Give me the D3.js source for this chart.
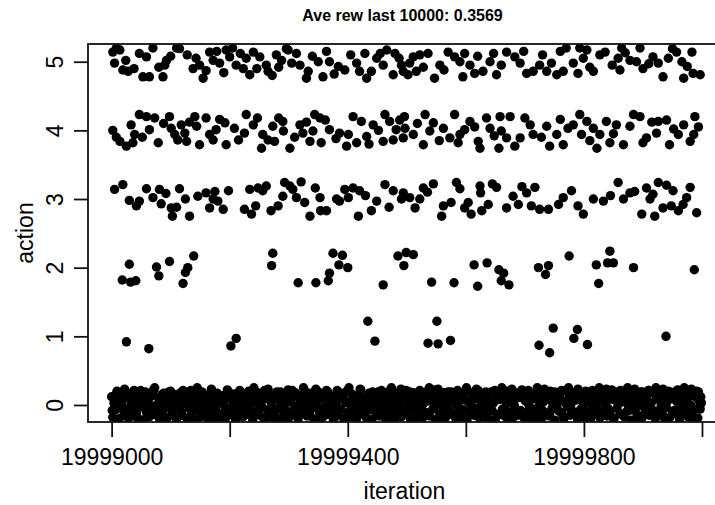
<!DOCTYPE html>
<html>
<head>
  <meta charset="utf-8">
  <script src="https://d3js.org/d3.v7.min.js"></script>
  <style>
    body { margin: 0; background: #fff; }
    text { font-family: "Liberation Sans", Arial, sans-serif; fill: #000; }
  </style>
</head>
<body>
  <script type="text/javascript">
    "use strict";
    // iterations are stored as offsets from 19999000, value = action + jitter
    var base = 19999000;
    var title = "Ave rew last 10000: 0.3569";
    var xTicks = [19999000, 19999200, 19999400, 19999600, 19999800, 20000000];
    var xLabels = [19999000, 19999400, 19999800];
    var yTicks = [0, 1, 2, 3, 4, 5];

    var act5 = [[2,5.14],[14,5.17],[5,4.98],[19,4.88],[28,4.86],[47,5.12],[59,5.07],[53,4.78],[64,4.78],[93,5.02],
      [90,4.95],[87,4.78],[115,5.19],[138,4.9],[149,4.95],[155,4.76],[166,5.14],[172,5.02],[183,4.98],[194,5.17],
      [200,5.07],[211,4.95],[223,4.9],[234,4.81],[240,5.14],[251,5.07],[262,4.95],[265,4.86],[279,5.1],[288,5.02],
      [299,5.17],[305,4.98],[319,4.95],[330,4.76],[333,4.86],[350,5.0],[358,4.78],[369,5.0],[384,4.93],[395,4.88],
      [415,4.98],[420,4.86],[432,4.76],[429,5.12],[449,5.05],[460,4.95],[466,5.17],[480,5.12],[477,4.81],[494,4.86],
      [8,5.2],[70,5.2],[110,5.2],[205,5.2],[296,5.19],[491,4.95],[505,4.98],[511,5.07],[522,5.1],[536,5.12],
      [516,4.86],[502,4.81],[547,4.76],[556,4.95],[570,5.14],[581,5.07],[590,5.0],[598,5.12],[607,4.95],[595,4.78],
      [615,4.83],[629,4.86],[641,5.0],[647,5.12],[652,4.81],[669,5.14],[683,5.07],[692,4.98],[703,4.83],[714,4.86],
      [725,4.95],[737,4.86],[745,4.98],[754,4.81],[765,4.86],[782,4.98],[790,4.83],[799,5.05],[816,4.86],[827,5.1],
      [836,5.14],[805,5.17],[858,5.05],[861,4.88],[878,5.02],[889,5.0],[900,4.9],[917,5.07],[926,4.98],[934,4.78],
      [943,5.05],[957,5.14],[966,5.0],[969,4.76],[983,5.14],[985,4.83],[997,4.81],[770,5.2],[793,5.2],[864,5.2],
      [895,5.2],[950,5.19],
      [24,5.02],[38,4.9],[80,4.92],[100,5.08],[128,5.1],[143,5.05],[160,4.87],[178,5.15],[190,4.84],[218,5.12],
      [228,5.05],[246,4.9],[272,4.8],[283,4.92],[313,5.12],[340,5.08],[364,5.15],[377,4.82],[405,5.1],[440,4.86],
      [455,5.12],[487,5.05],[528,4.92],[563,4.88],[620,5.08],[660,4.95],[698,5.15],[730,5.1],[760,5.15],[810,4.92],
      [848,4.95],[870,5.13],[910,4.97],[975,4.93]];

    var act4 = [[2,4.0],[14,3.84],[25,3.77],[36,3.82],[39,3.94],[33,4.08],[47,4.23],[59,4.2],[73,4.18],[64,4.01],
      [79,3.82],[98,4.2],[101,4.03],[107,3.94],[112,3.86],[124,3.96],[127,3.84],[118,4.08],[141,4.2],[144,4.06],
      [160,4.18],[149,3.79],[166,3.94],[177,4.01],[192,4.11],[194,3.79],[208,4.03],[228,4.23],[225,3.96],[240,4.08],
      [256,3.94],[254,3.74],[273,4.06],[290,4.13],[291,3.99],[276,3.84],[302,3.74],[319,4.08],[324,3.96],[344,4.23],
      [353,4.18],[341,3.99],[336,3.84],[355,3.82],[369,4.01],[386,3.96],[401,3.94],[398,3.77],[415,3.82],[409,4.2],
      [423,4.13],[432,3.91],[443,4.08],[463,4.23],[471,4.13],[482,4.01],[460,3.84],[477,3.86],[494,3.89],
      [496,4.2],[497,4.03],[511,3.94],[531,4.23],[545,4.11],[539,3.99],[528,3.79],[562,4.03],[573,3.89],[581,4.23],
      [590,3.94],[598,4.01],[607,4.13],[587,3.82],[621,3.84],[635,4.18],[641,4.03],[658,4.2],[675,4.2],[660,3.99],
      [669,3.89],[624,3.74],[656,3.74],[683,3.77],[709,4.08],[714,3.94],[692,3.89],[737,4.06],[754,3.94],[742,3.77],
      [773,4.03],[782,4.08],[765,3.79],[793,4.23],[805,4.13],[796,3.94],[816,4.03],[838,4.13],[855,4.08],[827,3.94],
      [822,3.74],[844,3.82],[867,3.79],[884,4.23],[895,4.2],[878,4.06],[906,3.89],[900,3.82],[926,4.13],[940,4.15],
      [923,3.96],[945,3.79],[960,3.94],[969,4.08],[986,3.94],[988,4.2],[980,3.84],
      [8,3.9],[52,3.9],[88,4.1],[132,4.12],[172,3.86],[183,4.16],[215,3.86],[247,4.18],[265,3.86],[283,4.18],
      [310,3.9],[330,4.12],[362,4.15],[380,3.88],[436,3.8],[452,4.0],[488,4.15],[518,4.1],[555,3.85],[615,4.05],
      [648,3.92],[700,4.18],[728,3.9],[760,4.16],[810,3.85],[850,3.95],[915,4.12],[952,4.02],[994,4.05]];

    var act3 = [[5,3.14],[19,3.21],[59,3.15],[81,3.14],[115,3.15],[47,2.97],[42,2.9],[70,3.02],[84,2.93],[101,2.87],
      [110,2.88],[103,2.75],[132,2.75],[146,3.04],[160,3.09],[175,3.11],[172,3.0],[166,2.87],[189,2.85],[180,2.97],
      [225,2.85],[237,2.78],[234,3.14],[248,3.16],[262,3.19],[256,3.12],[293,3.24],[302,3.19],[321,3.25],[307,3.14],
      [290,3.04],[282,2.9],[327,2.95],[353,3.02],[336,2.75],[354,2.83],[364,2.83],[381,3.0],[395,3.14],[409,3.16],
      [420,3.12],[401,3.02],[386,2.97],[449,2.97],[440,2.83],[418,2.75],[463,3.21],[477,3.12],[491,3.0],
      [494,3.09],[505,3.02],[528,3.16],[545,3.22],[522,3.0],[514,2.87],[562,2.9],[559,2.75],[584,3.24],[590,3.15],
      [604,2.95],[598,2.87],[609,2.78],[624,3.19],[625,3.09],[638,2.92],[627,2.83],[652,3.17],[669,2.87],[680,3.04],
      [689,2.92],[703,3.09],[717,3.17],[711,2.9],[725,2.85],[757,2.92],[765,3.02],[779,3.12],[799,2.78],[816,3.0],
      [833,2.97],[858,3.24],[867,3.0],[878,3.09],[886,3.11],[906,3.16],[926,3.24],[917,3.07],[912,3.0],[898,2.78],
      [920,2.75],[934,2.87],[951,3.12],[948,2.9],[960,2.83],[974,3.02],[980,3.17],[991,2.8],
      [30,2.98],[92,3.08],[125,3.0],[198,3.12],[244,2.9],[270,2.83],[313,3.02],[345,3.16],[430,3.05],[470,2.88],
      [535,3.1],[575,2.95],[645,3.22],[695,3.18],[740,2.85],[790,2.9],[845,3.05],[940,3.2],[968,2.92]];

    var act2 = [[30,2.05],[18,1.82],[32,1.79],[41,1.81],[76,2.01],[80,1.88],[98,2.09],[139,2.17],[129,2.0],[125,1.93],
      [121,1.77],[273,2.21],[271,2.03],[316,1.78],[346,1.78],[367,1.81],[369,1.92],[375,2.21],[391,2.18],[385,2.04],
      [400,2.0],[460,1.75],[485,2.17],[499,2.22],[495,2.03],[511,2.19],[542,1.79],[580,1.78],[614,2.04],[636,2.07],
      [656,1.97],[664,1.92],[660,1.81],[673,1.75],[620,1.73],[723,2.0],[740,2.03],[735,1.9],[775,2.17],[821,2.04],
      [844,2.24],[840,2.07],[850,2.07],[825,1.77],[884,2.0],[987,1.97]];

    var act1 = [[25,0.92],[63,0.82],[202,0.86],[211,0.97],[434,1.22],[446,0.93],[551,1.22],[536,0.9],[553,0.89],
      [574,0.94],[748,1.12],[789,1.1],[783,0.97],[724,0.87],[742,0.76],[806,0.88],[939,1.0]];

    var act0 = [[0,0.12],[2,-0.18],[4,0.03],[7,-0.07],[9,0.2],[11,-0.21],[14,0.08],[16,-0.02],[19,0.15],[21,-0.13],
      [23,-0.05],[26,0.18],[28,-0.19],[31,0.1],[33,0.01],[35,-0.16],[38,0.21],[40,-0.09],[43,0.06],[45,-0.2],
      [47,0.14],[50,-0.03],[52,-0.22],[55,0.09],[57,0.19],[59,-0.11],[62,0.04],[64,-0.17],[67,0.16],[69,-0.06],
      [71,0.22],[74,-0.14],[76,0.0],[79,0.11],[81,-0.2],[83,0.07],[86,-0.1],[88,0.17],[91,-0.04],[93,0.13],
      [95,-0.18],[98,0.05],[100,0.2],[103,-0.12],[105,-0.01],[107,0.15],[110,-0.21],[112,0.08],[115,-0.07],[117,0.18],
      [119,-0.15],[122,0.02],[124,0.12],[127,-0.19],[129,0.1],[131,-0.05],[134,0.21],[136,-0.13],[139,0.04],[141,-0.22],
      [143,0.16],[146,-0.08],[148,0.09],[151,-0.17],[153,0.19],[155,0.0],[158,-0.11],[160,0.14],[163,-0.2],[165,0.06],
      [167,-0.03],[170,0.2],[172,-0.16],[175,0.11],[177,-0.08],[179,0.17],[182,-0.21],[184,0.03],[187,0.13],[189,-0.12],
      [191,0.07],[194,-0.18],[196,0.22],[199,-0.05],[201,0.1],[203,-0.14],[206,0.01],[208,0.16],[211,-0.2],[213,0.08],
      [215,-0.09],[218,0.19],[220,-0.02],[223,-0.17],[225,0.12],[227,0.04],[230,-0.13],[232,0.2],[235,-0.07],[237,0.14],
      [239,-0.22],[242,0.06],[244,-0.1],[247,0.18],[249,0.0],[251,-0.15],[254,0.11],[256,-0.04],[259,0.21],[261,-0.19],
      [263,0.09],[266,-0.12],[268,0.15],[271,0.02],[273,-0.18],[275,0.13],[278,-0.06],[280,0.19],[283,-0.21],[285,0.07],
      [287,-0.01],[290,0.16],[292,-0.14],[295,0.1],[297,-0.09],[299,0.22],[302,-0.17],[304,0.04],[307,0.12],[309,-0.11],
      [311,0.18],[314,-0.03],[316,-0.2],[319,0.08],[321,0.14],[323,-0.08],[326,0.01],[328,0.2],[331,-0.16],[333,0.06],
      [335,-0.12],[338,0.17],[340,-0.05],[343,0.11],[345,-0.21],[347,0.03],[350,0.19],[352,-0.1],[355,0.09],[357,-0.18],
      [359,0.15],[362,-0.02],[364,0.21],[367,-0.14],[369,0.05],[371,-0.07],[374,0.13],[376,-0.22],[379,0.1],[381,0.0],
      [383,-0.15],[386,0.18],[388,-0.06],[391,0.12],[393,-0.19],[395,0.07],[398,0.2],[400,-0.11],[403,0.03],[405,-0.17],
      [407,0.16],[410,-0.04],[412,0.09],[415,-0.2],[417,0.14],[419,-0.09],[422,0.22],[424,0.01],[427,-0.13],[429,0.11],
      [431,-0.18],[434,0.06],[436,0.17],[439,-0.07],[441,-0.21],[443,0.13],[446,0.02],[448,-0.12],[451,0.19],[453,-0.16],
      [455,0.08],[458,-0.03],[460,0.15],[463,-0.19],[465,0.1],[467,-0.08],[470,0.2],[472,0.04],[475,-0.14],[477,0.12],
      [479,-0.22],[482,0.07],[484,0.17],[487,-0.1],[489,0.0],[491,-0.17],[494,0.14],[496,-0.05],[499,0.21],[501,-0.12],
      [503,0.05],[506,-0.2],[508,0.11],[511,0.18],[513,-0.08],[515,0.02],[518,-0.15],[520,0.16],[523,-0.02],[525,0.09],
      [527,-0.19],[530,0.13],[532,-0.11],[535,0.2],[537,0.06],[539,-0.16],[542,0.1],[544,-0.06],[547,0.22],[549,-0.21],
      [551,0.03],[554,0.15],[556,-0.13],[559,0.08],[561,-0.04],[563,0.18],[566,-0.18],[568,0.01],[571,0.12],[573,-0.09],
      [575,0.19],[578,-0.14],[580,0.05],[583,-0.2],[585,0.14],[587,-0.01],[590,0.1],[592,-0.17],[595,0.17],[597,-0.07],
      [599,0.07],[602,-0.22],[604,0.2],[607,-0.1],[609,0.03],[611,0.13],[614,-0.15],[616,0.09],[619,-0.05],[621,0.21],
      [623,-0.19],[626,0.0],[628,0.16],[631,-0.12],[633,0.06],[635,-0.18],[638,0.12],[640,-0.03],[643,0.19],[645,-0.09],
      [647,0.04],[650,-0.21],[652,0.15],[655,0.08],[657,-0.13],[659,0.18],[662,-0.06],[664,0.1],[667,-0.17],[669,0.02],
      [671,0.2],[674,-0.11],[676,0.14],[679,-0.2],[681,0.05],[683,-0.04],[686,0.17],[688,-0.15],[691,0.11],[693,-0.08],
      [695,0.22],[698,-0.18],[700,0.07],[703,0.13],[705,-0.1],[707,0.0],[710,-0.21],[712,0.16],[715,-0.06],[717,0.09],
      [719,-0.14],[722,0.19],[724,-0.02],[727,0.12],[729,-0.19],[731,0.04],[734,0.15],[736,-0.12],[739,0.08],[741,-0.16],
      [743,0.2],[746,-0.05],[748,0.1],[751,-0.22],[753,0.14],[755,0.01],[758,-0.09],[760,0.17],[763,-0.13],[765,0.06],
      [767,-0.18],[770,0.21],[772,-0.03],[775,0.11],[777,-0.15],[779,0.03],[782,0.18],[784,-0.11],[787,0.07],[789,-0.2],
      [791,0.13],[794,-0.07],[796,0.16],[799,-0.17],[801,0.05],[803,0.2],[806,-0.1],[808,0.09],[811,-0.21],[813,0.0],
      [815,0.14],[818,-0.14],[820,0.11],[823,-0.04],[825,0.19],[827,-0.19],[830,0.06],[832,0.15],[835,-0.08],[837,0.02],
      [839,-0.16],[842,0.12],[844,-0.12],[847,0.22],[849,0.08],[851,-0.2],[854,0.17],[856,-0.05],[859,0.1],[861,-0.13],
      [863,0.04],[866,0.18],[868,-0.17],[871,0.13],[873,-0.09],[875,0.0],[878,0.2],[880,-0.22],[883,0.07],[885,-0.06],
      [887,0.16],[890,-0.14],[892,0.11],[895,-0.01],[897,0.19],[899,-0.18],[902,0.05],[904,-0.1],[907,0.14],[909,0.21],
      [911,-0.15],[914,0.03],[916,-0.07],[919,0.17],[921,-0.2],[923,0.09],[926,0.13],[928,-0.12],[931,0.01],[933,0.18],
      [935,-0.16],[938,0.07],[940,-0.04],[943,0.2],[945,-0.19],[947,0.11],[950,-0.09],[952,0.15],[955,-0.13],[957,0.05],
      [959,0.22],[962,-0.21],[964,0.1],[967,-0.02],[969,0.16],[971,-0.11],[974,0.08],[976,-0.17],[979,0.19],[981,0.0],
      [983,-0.14],[986,0.13],[988,-0.06],[991,0.2],[993,-0.19],[995,0.06],[998,0.12],
      [1,-0.08],[6,0.14],[10,0.0],[13,-0.2],[18,0.06],[22,0.23],[25,-0.1],[30,0.16],[34,-0.04],[37,0.09],
      [42,-0.12],[46,0.02],[49,0.21],[54,-0.22],[58,0.07],[61,-0.05],[66,0.12],[70,-0.13],[73,0.25],[78,0.0],
      [82,-0.06],[85,0.15],[90,-0.2],[94,0.05],[97,0.19],[102,-0.08],[106,0.1],[109,-0.02],[114,0.13],[118,-0.11],
      [121,0.21],[126,0.03],[130,-0.22],[133,0.08],[138,-0.06],[142,0.11],[145,0.25],[150,-0.01],[154,-0.13],[157,0.07],
      [162,0.13],[166,-0.07],[169,0.23],[174,-0.2],[178,0.04],[181,0.1],[186,-0.15],[190,0.0],[193,0.15],[198,0.19],
      [202,-0.08],[205,0.06],[210,-0.22],[214,0.11],[217,0.21],[222,-0.03],[226,-0.14],[229,0.09],[234,0.0],[238,-0.1],
      [241,0.25],[246,0.13],[250,-0.07],[253,0.04],[258,-0.2],[262,0.1],[265,0.23],[270,-0.05],[274,0.07],[277,-0.15],
      [282,0.12],[286,0.19],[289,-0.06],[294,0.02],[298,-0.22],[301,0.09],[306,0.21],[310,-0.02],[313,0.14],[318,-0.14],
      [322,0.05],[325,0.25],[330,-0.08],[334,0.12],[337,-0.01],[342,-0.2],[346,0.23],[349,0.08],[354,-0.05],[358,0.13],
      [361,-0.15],[366,0.19],[370,0.0],[373,-0.1],[378,0.07],[382,0.21],[385,-0.07],[390,0.1],[394,-0.22],[397,0.03],
      [402,0.25],[406,-0.03],[409,0.12],[414,-0.14],[418,0.06],[421,0.23],[426,-0.08],[430,0.02],[433,-0.2],[438,0.11],
      [442,0.19],[445,-0.04],[450,0.07],[454,-0.11],[457,0.21],[462,0.0],[466,-0.22],[469,0.12],[474,0.25],[478,-0.06],
      [481,0.04],[486,-0.12],[490,0.23],[493,0.09],[498,-0.08],[502,0.14],[505,0.19],[510,-0.02],[514,-0.2],[517,0.07],
      [522,0.21],[526,-0.07],[529,0.03],[534,-0.14],[538,0.25],[541,0.1],[546,-0.04],[550,0.12],[553,0.23],[558,-0.22],
      [562,0.05],[565,-0.06],[570,0.19],[574,0.09],[577,-0.12],[582,0.01],[586,0.21],[589,-0.08],[594,0.11],[598,-0.2],
      [601,0.25],[606,0.04],[610,-0.06],[613,0.1],[618,0.23],[622,-0.13],[625,0.07],[630,-0.03],[634,0.19],[637,0.13],
      [642,-0.22],[646,0.02],[649,0.21],[654,-0.15],[658,0.08],[661,0.25],[666,-0.05],[670,0.11],[673,-0.2],[678,0.23],
      [682,0.0],[685,-0.09],[690,0.14],[694,0.19],[697,-0.13],[702,0.05],[706,0.21],[709,-0.04],[714,0.1],[718,-0.22],
      [721,0.25],[726,0.02],[730,-0.08],[733,0.23],[738,0.12],[742,-0.14],[745,0.06],[750,0.19],[754,-0.06],[757,0.1],
      [762,0.21],[766,-0.2],[769,0.03],[774,0.25],[778,-0.05],[781,0.13],[786,-0.15],[790,0.23],[793,0.08],[798,-0.03],
      [802,0.19],[805,-0.22],[810,0.11],[814,0.21],[817,-0.07],[822,0.04],[826,0.25],[829,-0.14],[834,0.09],[838,0.23],
      [841,-0.05],[846,0.12],[850,-0.2],[853,0.19],[858,0.01],[862,0.21],[865,-0.13],[870,0.07],[874,0.25],[877,-0.08],
      [882,0.13],[886,0.23],[889,-0.03],[894,-0.22],[898,0.19],[901,0.09],[906,-0.07],[910,0.21],[913,0.03],[918,-0.14],
      [922,0.25],[925,0.1],[930,-0.05],[934,0.23],[937,-0.2],[942,0.06],[946,0.19],[949,0.14],[954,-0.08],[958,0.21],
      [961,0.02],[966,-0.13],[970,0.25],[973,0.08],[978,-0.04],[982,0.23],[985,-0.22],[990,0.12],[994,0.19],[997,-0.06],[999,0.03]];

    var W = 715, H = 505;
    var pLeft = 88, pRight = 725, pTop = 44, pBottom = 422;

    var svg = d3.select("body").append("svg")
      .attr("width", W).attr("height", H);

    var x = d3.scaleLinear().domain([19998960, 20000039]).range([pLeft, pRight]);
    var y = d3.scaleLinear().domain([-0.248, 5.258]).range([pBottom, pTop]);

    svg.append("clipPath").attr("id", "plotclip")
      .append("rect")
        .attr("x", pLeft).attr("y", pTop)
        .attr("width", pRight - pLeft).attr("height", pBottom - pTop);

    var points = [].concat(act0, act1, act2, act3, act4, act5);

    svg.append("g")
        .attr("clip-path", "url(#plotclip)")
      .selectAll("circle")
      .data(points)
      .enter().append("circle")
        .attr("cx", function (d) { return x(base + d[0]); })
        .attr("cy", function (d) { return y(d[1]); })
        .attr("r", 4.7)
        .style("fill", "#000");

    // box
    svg.append("rect")
      .attr("x", pLeft).attr("y", pTop)
      .attr("width", pRight - pLeft).attr("height", pBottom - pTop)
      .style("fill", "none").style("stroke", "#111").style("stroke-width", 1.8);

    // x axis
    var xAxis = d3.axisBottom(x)
      .tickValues(xTicks)
      .tickSize(15)
      .tickFormat(function (d) { return xLabels.indexOf(d) >= 0 ? d3.format("d")(d) : ""; });
    var gx = svg.append("g")
      .attr("transform", "translate(0," + pBottom + ")")
      .call(xAxis);
    gx.select(".domain").remove();
    gx.selectAll(".tick line").style("stroke", "#111").style("stroke-width", 1.8);
    gx.selectAll(".tick text")
      .attr("y", 43).attr("dy", null)
      .style("font-family", "Liberation Sans, Arial, sans-serif")
      .style("font-size", "23px").style("fill", "#000");

    // y axis
    var yAxis = d3.axisLeft(y).tickValues(yTicks).tickSize(14).tickFormat(d3.format("d"));
    var gy = svg.append("g")
      .attr("transform", "translate(" + pLeft + ",0)")
      .call(yAxis);
    gy.select(".domain").remove();
    gy.selectAll(".tick line").style("stroke", "#111").style("stroke-width", 1.8);
    gy.selectAll(".tick text")
      .attr("x", null).attr("dy", null)
      .attr("text-anchor", "middle")
      .attr("transform", "translate(-25,0) rotate(-90)")
      .style("font-family", "Liberation Sans, Arial, sans-serif")
      .style("font-size", "23px").style("fill", "#000");

    svg.append("text")
      .attr("x", (pLeft + pRight) / 2 - 4).attr("y", 21)
      .attr("text-anchor", "middle")
      .style("font-size", "16px").style("font-weight", "bold")
      .text(title);

    svg.append("text")
      .attr("x", (pLeft + pRight) / 2 - 2).attr("y", 499)
      .attr("text-anchor", "middle")
      .style("font-size", "23px")
      .text("iteration");

    svg.append("text")
      .attr("transform", "translate(33," + (pTop + pBottom) / 2 + ") rotate(-90)")
      .attr("text-anchor", "middle")
      .style("font-size", "23px")
      .text("action");
  </script>
</body>
</html>
